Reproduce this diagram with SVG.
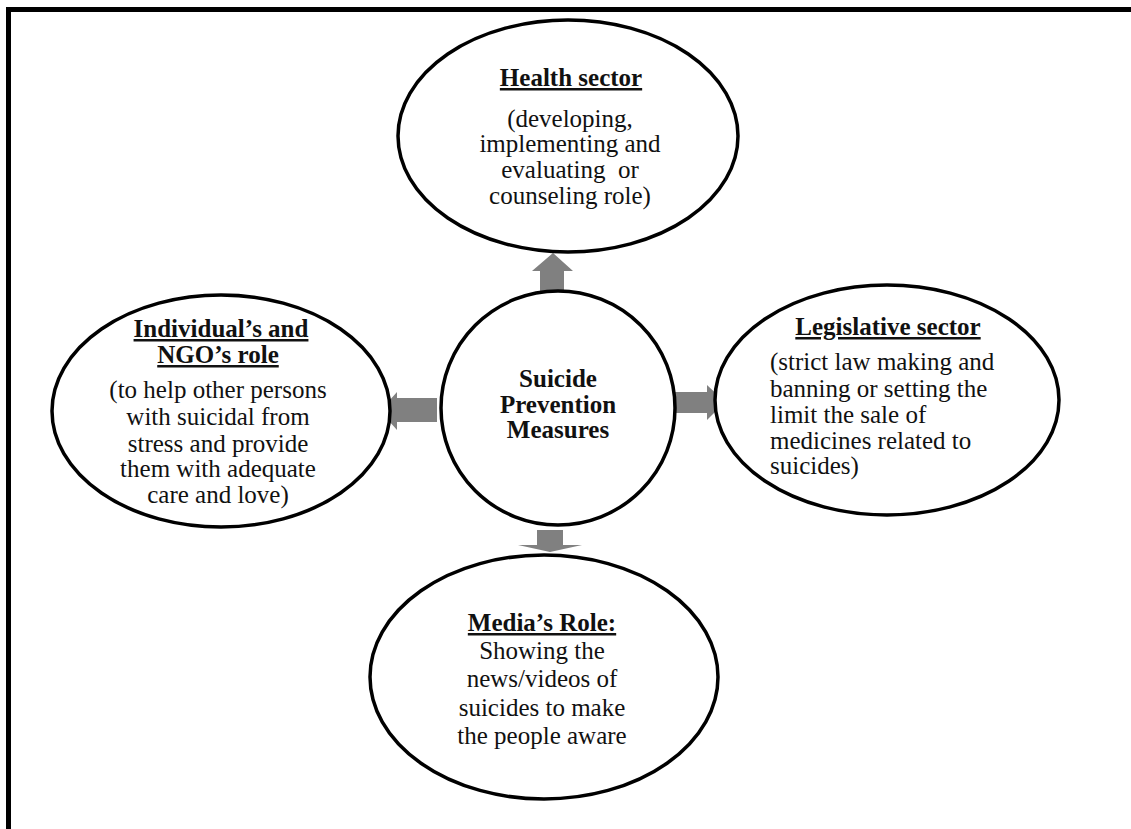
<svg xmlns="http://www.w3.org/2000/svg" width="1131" height="829" viewBox="0 0 1131 829">
<style>
  .node { fill: #ffffff; stroke: #000000; stroke-width: 3.5; }
  .arrow { fill: #808080; stroke: none; }
  text { font-family: "Liberation Serif", "Times New Roman", serif; font-size: 25px; fill: #111111; }
  .c { text-anchor: middle; }
  .b { font-weight: bold; }
  .u { text-decoration: underline; }
  .frame { stroke: #000000; stroke-width: 5; fill: none; }
</style>
<rect x="0" y="0" width="1131" height="829" fill="#ffffff"/>
<path class="frame" d="M8.5 829 V9.5 H1131"/>

<g id="connectors">
  <polygon class="arrow" points="540,293 540,271 532,271 553,253 573,271 564,271 564,293"/>
  <polygon class="arrow" points="437,398 397,398 397,392 380,411 397,430 397,422 437,422"/>
  <polygon class="arrow" points="673,392 707,392 707,385 725,402 707,420 707,413 673,413"/>
  <polygon class="arrow" points="537,530 563,530 563,545 582,545 550,552 518,545 537,545"/>
</g>

<g id="health">
  <ellipse class="node" cx="568" cy="136" rx="170" ry="116"/>
  <text class="c b u" x="571" y="86">Health sector</text>
  <text class="c" x="570" y="127">(developing,</text>
  <text class="c" x="570" y="152">implementing and</text>
  <text class="c" x="570" y="178">evaluating&#160; or</text>
  <text class="c" x="570" y="204">counseling role)</text>
</g>

<g id="individual">
  <ellipse class="node" cx="221" cy="411" rx="169" ry="116"/>
  <text class="c b u" x="221" y="337">Individual’s and</text>
  <text class="c b u" x="218" y="363">NGO’s role</text>
  <text class="c" x="218" y="398">(to help other persons</text>
  <text class="c" x="218" y="425">with suicidal from</text>
  <text class="c" x="218" y="452">stress and provide</text>
  <text class="c" x="218" y="477">them with adequate</text>
  <text class="c" x="218" y="503">care and love)</text>
</g>

<g id="center">
  <circle class="node" cx="558" cy="408" r="117"/>
  <text class="c b" x="558" y="387">Suicide</text>
  <text class="c b" x="558" y="413">Prevention</text>
  <text class="c b" x="558" y="438">Measures</text>
</g>

<g id="legislative">
  <ellipse class="node" cx="887" cy="400" rx="172" ry="115"/>
  <text class="c b u" x="888" y="335">Legislative sector</text>
  <text x="770" y="370">(strict law making and</text>
  <text x="770" y="397">banning or setting the</text>
  <text x="770" y="423">limit the sale of</text>
  <text x="770" y="449">medicines related to</text>
  <text x="770" y="474">suicides)</text>
</g>

<g id="media">
  <ellipse class="node" cx="544" cy="677" rx="174" ry="122"/>
  <text class="c b u" x="542" y="631">Media’s Role:</text>
  <text class="c" x="542" y="659">Showing the</text>
  <text class="c" x="542" y="687">news/videos of</text>
  <text class="c" x="542" y="716">suicides to make</text>
  <text class="c" x="542" y="744">the people aware</text>
</g>
</svg>
